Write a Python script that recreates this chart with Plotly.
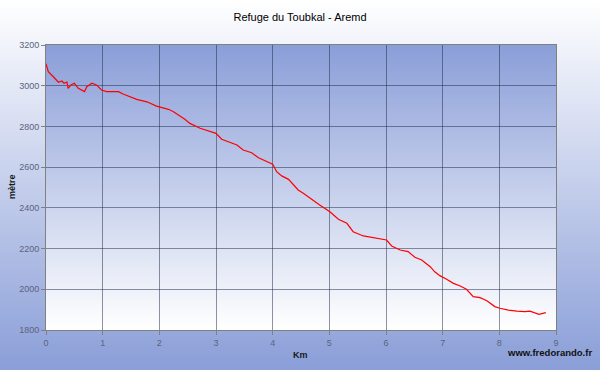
import plotly.graph_objects as go

km = [0, 0.04, 0.13, 0.22, 0.28, 0.32, 0.37, 0.39, 0.44, 0.5, 0.57, 0.68, 0.72, 0.81, 0.89,
      0.98, 1.07, 1.28, 1.36, 1.45, 1.6, 1.78, 1.95, 2.16, 2.25, 2.45, 2.54, 2.72, 2.89, 3.0,
      3.1, 3.25, 3.37, 3.48, 3.63, 3.75, 3.89, 4.0, 4.07, 4.16, 4.28, 4.36, 4.45, 4.54, 4.66,
      4.83, 5.01, 5.16, 5.31, 5.42, 5.6, 5.78, 6.01, 6.1, 6.25, 6.39, 6.51, 6.63, 6.78, 6.86,
      6.95, 7.07, 7.19, 7.31, 7.42, 7.54, 7.66, 7.78, 7.92, 8.01, 8.16, 8.31, 8.45, 8.54, 8.63,
      8.7, 8.82]
altitude = [3108, 3069, 3044, 3017, 3023, 3012, 3018, 2987, 3004, 3012, 2987, 2971, 2995, 3012, 3004,
            2979, 2971, 2971, 2959, 2950, 2933, 2921, 2900, 2884, 2872, 2835, 2815, 2791, 2774, 2766,
            2737, 2720, 2709, 2684, 2671, 2646, 2630, 2615, 2578, 2557, 2540, 2516, 2488, 2472, 2447,
            2414, 2381, 2344, 2324, 2283, 2262, 2254, 2242, 2213, 2193, 2185, 2157, 2144, 2111, 2086,
            2067, 2049, 2029, 2016, 2000, 1964, 1959, 1944, 1915, 1907, 1898, 1893, 1890, 1893, 1882,
            1877, 1885]

title_text = "Refuge du Toubkal - Aremd"
x_title = "Km"
y_title = "mètre"
credit = "www.fredorando.fr"

W, H = 600, 370
ML, MR, MT, MB = 46, 44, 45, 40
PW, PH = W - ML - MR, H - MT - MB

BLUE = (138, 158, 216)
WHITE = (255, 255, 255)


def mix(a, b, t):
    return "rgb(%d,%d,%d)" % tuple(round(a[i] + (b[i] - a[i]) * t) for i in range(3))


shapes = []
# outer background gradient: white top -> blue bottom
step = 2
for py in range(0, H, step):
    t = (py + step / 2) / H
    y0 = (H - MB - (py + step + 0.5)) / PH
    y1 = (H - MB - py) / PH
    shapes.append(dict(type="rect", xref="paper", yref="paper", x0=-ML / PW, x1=1 + MR / PW,
                       y0=y0, y1=y1, fillcolor=mix(WHITE, BLUE, t), line=dict(width=0), layer="below"))
# plot area gradient: blue top -> white bottom
for py in range(0, PH, step):
    t = (py + step / 2) / PH
    y1 = 1 - py / PH
    y0 = max(0, 1 - (py + step + 0.5) / PH)
    shapes.append(dict(type="rect", xref="paper", yref="paper", x0=0, x1=1,
                       y0=y0, y1=y1, fillcolor=mix(BLUE, WHITE, t), line=dict(width=0), layer="below"))

fig = go.Figure()
fig.add_trace(go.Scatter(x=km, y=altitude, mode="lines",
                         line=dict(color="#ff0000", width=1.2), hoverinfo="skip", showlegend=False))

tickfont = dict(family="Liberation Sans Narrow, Liberation Sans, Arial", size=9, color="#5a6480")
grid = "rgba(30,40,70,0.5)"

fig.update_layout(
    width=W, height=H,
    margin=dict(l=ML, r=MR, t=MT, b=MB, autoexpand=False),
    paper_bgcolor="white", plot_bgcolor="rgba(0,0,0,0)",
    shapes=shapes,
    title=dict(text=title_text, x=0.5, xanchor="center", y=1 - 17 / H, yanchor="middle",
               font=dict(family="Liberation Sans, Arial", size=11, color="#000000")),
    xaxis=dict(range=[0, 9], dtick=1, tick0=0, showgrid=True, gridcolor=grid, gridwidth=1,
               zeroline=False, showline=True, linecolor="#808080", linewidth=1, mirror=True,
               ticks="outside", ticklen=4, tickcolor="#808080", tickfont=tickfont, automargin=False,
               fixedrange=True),
    yaxis=dict(range=[1800, 3200], dtick=200, tick0=1800, showgrid=True, gridcolor=grid, gridwidth=1,
               zeroline=False, showline=True, linecolor="#808080", linewidth=1, mirror=True,
               ticks="outside", ticklen=4, tickcolor="#808080", tickfont=tickfont, automargin=False,
               fixedrange=True),
    annotations=[
        dict(text="<b>%s</b>" % x_title, xref="paper", yref="paper", x=(300 - ML) / PW,
             y=(H - MB - 355) / PH, showarrow=False, xanchor="center", yanchor="middle",
             font=dict(family="Liberation Sans, Arial", size=9, color="#1a1a1a")),
        dict(text="<b>%s</b>" % y_title, xref="paper", yref="paper", x=(12 - ML) / PW,
             y=(H - MB - 187) / PH, showarrow=False, xanchor="center", yanchor="middle", textangle=-90,
             font=dict(family="Liberation Sans, Arial", size=9, color="#1a1a1a")),
        dict(text="<b>%s</b>" % credit, xref="paper", yref="paper", x=(594 - ML) / PW,
             y=(H - MB - 352.5) / PH, showarrow=False, xanchor="right", yanchor="middle",
             font=dict(family="Liberation Sans, Arial", size=9.5, color="#111111")),
    ],
)

fig.write_html("out.html", config=dict(displayModeBar=False),
               post_script="document.body.style.margin='0';document.body.style.padding='0';")
